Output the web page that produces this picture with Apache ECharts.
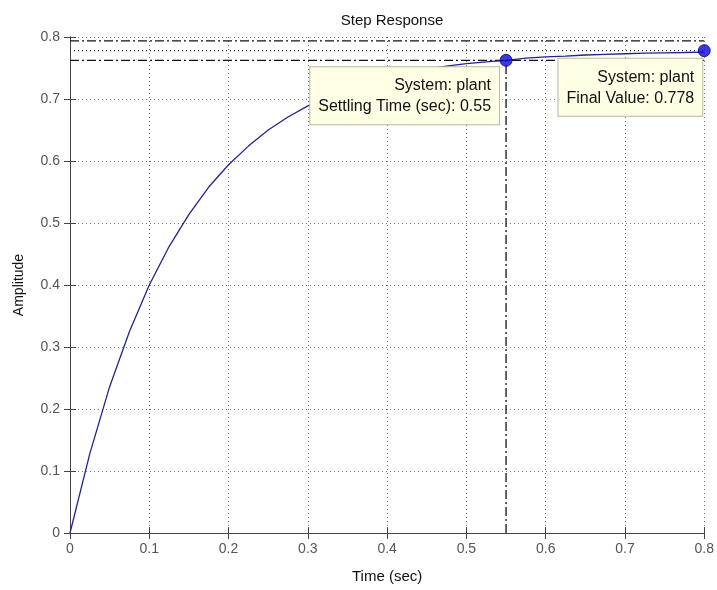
<!DOCTYPE html>
<html>
<head>
<meta charset="utf-8">
<title>Step Response</title>
<script src="https://cdn.jsdelivr.net/npm/echarts@6/dist/echarts.min.js"></script>
<style>
  html, body { margin: 0; padding: 0; background: #fff; }
  #chart { width: 717px; height: 590px; }
</style>
</head>
<body>
<div id="chart"></div>
<script>
// values
const times = [0, 0.025, 0.05, 0.075, 0.1, 0.125, 0.15, 0.175, 0.2, 0.225, 0.25, 0.275, 0.3,
  0.325, 0.35, 0.375, 0.4, 0.425, 0.45, 0.475, 0.5, 0.525, 0.55, 0.575, 0.6, 0.625, 0.65,
  0.675, 0.7, 0.725, 0.75, 0.775, 0.8]
const amplitude = [0, 0.128, 0.236, 0.325, 0.400, 0.462, 0.514, 0.558, 0.594, 0.624, 0.650,
  0.671, 0.689, 0.703, 0.716, 0.726, 0.734, 0.742, 0.748, 0.753, 0.757, 0.760, 0.7624, 0.766,
  0.768, 0.769, 0.771, 0.772, 0.773, 0.774, 0.7745, 0.775, 0.7756]
const xTicks = [0, 0.1, 0.2, 0.3, 0.4, 0.5, 0.6, 0.7, 0.8]
const yTicks = [0, 0.1, 0.2, 0.3, 0.4, 0.5, 0.6, 0.7, 0.8]
const settlingTime = 0.55
const settleBand = [0.7624, 0.7936]
const finalValue = 0.778
const tipPoints = [[settlingTime, settleBand[0]], [0.8, finalValue]]
const tipTexts = [
  'System: plant\nSettling Time (sec): ' + settlingTime,
  'System: plant\nFinal Value: ' + finalValue
]

const chart = echarts.init(document.getElementById('chart'))

const axisCol = '#444'
const gridLine = { show: true, lineStyle: { color: '#777', type: [1, 3], width: 1 } }
const dashDot = [9, 3, 2, 3]

function hLine (y) {
  return [[xTicks[0], y], [xTicks[xTicks.length - 1], y]]
}

chart.setOption({
  animation: false,
  textStyle: { fontFamily: 'Liberation Sans' },
  title: {
    text: 'Step Response',
    left: 387,
    textAlign: 'center',
    top: 8,
    textStyle: { fontSize: 15, fontWeight: 'normal', color: '#111' }
  },
  grid: { left: 70, right: 12, top: 37, bottom: 57 },
  xAxis: [
    {
      type: 'value',
      min: 0,
      max: 0.8,
      interval: 0.1,
      name: 'Time (sec)',
      nameLocation: 'middle',
      nameGap: 36,
      nameTextStyle: { fontSize: 15, color: '#111' },
      axisLine: { lineStyle: { color: axisCol } },
      axisTick: { inside: true, length: 6, lineStyle: { color: axisCol } },
      axisLabel: { fontSize: 14, color: '#555', margin: 9, formatter: v => String(+v.toFixed(1)) },
      splitLine: gridLine
    },
    {
      type: 'value',
      position: 'top',
      min: 0,
      max: 0.8,
      interval: 0.1,
      axisLine: { lineStyle: { color: axisCol } },
      axisTick: { inside: true, length: 6, lineStyle: { color: axisCol } },
      axisLabel: { show: false },
      splitLine: { show: false }
    }
  ],
  yAxis: [
    {
      type: 'value',
      min: 0,
      max: 0.8,
      interval: 0.1,
      name: 'Amplitude',
      nameLocation: 'middle',
      nameGap: 44,
      nameTextStyle: { fontSize: 14, color: '#111' },
      axisLine: { show: true, lineStyle: { color: axisCol } },
      axisTick: { show: true, inside: true, length: 6, lineStyle: { color: axisCol } },
      axisLabel: { fontSize: 14, color: '#555', margin: 10, formatter: v => String(+v.toFixed(1)) },
      splitLine: gridLine
    },
    {
      type: 'value',
      position: 'right',
      min: 0,
      max: 0.8,
      interval: 0.1,
      axisLine: { show: true, lineStyle: { color: axisCol } },
      axisTick: { show: true, inside: true, length: 6, lineStyle: { color: axisCol } },
      axisLabel: { show: false },
      splitLine: { show: false }
    }
  ],
  series: [
    {
      type: 'line',
      data: hLine(settleBand[1]),
      symbol: 'none',
      lineStyle: { color: '#111', width: 1.3, type: dashDot }
    },
    {
      type: 'line',
      data: hLine(settleBand[0]),
      symbol: 'none',
      lineStyle: { color: '#111', width: 1.3, type: dashDot }
    },
    {
      type: 'line',
      data: hLine(finalValue),
      symbol: 'none',
      lineStyle: { color: '#222', width: 1.2, type: [1, 3] }
    },
    {
      type: 'line',
      data: [[settlingTime, 0], [settlingTime, settleBand[0]]],
      symbol: 'none',
      lineStyle: { color: '#111', width: 1.3, type: dashDot }
    },
    {
      type: 'line',
      data: times.map((t, i) => [t, amplitude[i]]),
      symbol: 'none',
      lineStyle: { color: '#24248a', width: 1.3 }
    },
    {
      type: 'scatter',
      symbolSize: 12,
      itemStyle: { color: '#0a0ad2', borderColor: '#000080', borderWidth: 1 },
      z: 5,
      data: tipPoints
    }
  ]
})

// data tips: boxes anchored just below-left of each marker
const tipOffsets = [[-7, 7], [-2, 8]]
chart.setOption({
  graphic: tipPoints.map((p, i) => {
    const px = chart.convertToPixel({ gridIndex: 0 }, p)
    return {
      type: 'text',
      x: px[0] + tipOffsets[i][0],
      y: px[1] + tipOffsets[i][1],
      z: 100,
      style: {
        text: tipTexts[i],
        fontFamily: 'Liberation Sans',
        fontSize: 16,
        lineHeight: 21,
        fill: '#111',
        align: 'right',
        verticalAlign: 'top',
        backgroundColor: '#ffffe6',
        borderColor: '#b8b8a0',
        borderWidth: 1,
        padding: [8, 8, 7, 8]
      }
    }
  })
})
</script>
</body>
</html>
